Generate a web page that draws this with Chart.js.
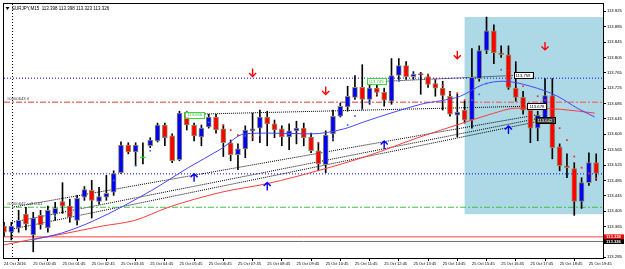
<!DOCTYPE html>
<html><head><meta charset="utf-8">
<script src="https://cdn.jsdelivr.net/npm/chart.js@4.4.0/dist/chart.umd.min.js"></script>
<style>html,body{margin:0;padding:0;background:#fff;overflow:hidden}</style>
</head><body><canvas id="c" width="625" height="269"></canvas>
<script>
const chartTitle = "EURJPY,M15  113.398 113.398 113.323 113.326";
const timeLabels = ["24 Oct 2016","25 Oct 00:45","25 Oct 01:45","25 Oct 02:45","25 Oct 03:45","25 Oct 04:45","25 Oct 05:45","25 Oct 06:45","25 Oct 07:45","25 Oct 08:45","25 Oct 09:45","25 Oct 10:45","25 Oct 11:45","25 Oct 12:45","25 Oct 13:45","25 Oct 14:45","25 Oct 15:45","25 Oct 16:45","25 Oct 17:45","25 Oct 18:45","25 Oct 19:45"];
const timeLabelBars = [0,4,8,12,16,20,24,28,32,36,40,44,48,52,56,60,64,68,72,76,80];
const priceTicks = [113.925,113.885,113.845,113.805,113.765,113.725,113.685,113.645,113.605,113.565,113.525,113.485,113.445,113.405,113.365,113.285];

const opens = [113.366,113.350,113.361,113.397,113.343,113.394,113.361,113.397,113.430,113.418,
113.381,113.441,113.459,113.430,113.441,113.454,113.505,113.577,113.559,113.544,
113.575,113.588,113.629,113.601,113.539,113.663,113.629,113.598,113.624,113.650,
113.619,113.583,113.552,113.567,113.614,113.621,113.650,113.632,113.619,113.598,
113.614,113.621,113.598,113.562,113.526,113.606,113.652,113.676,113.701,113.727,
113.696,113.725,113.714,113.691,113.758,113.784,113.755,113.762,113.755,113.737,
113.725,113.704,113.655,113.668,113.642,113.750,113.823,113.874,113.817,113.812,
113.725,113.701,113.668,113.621,113.639,113.706,113.572,113.523,113.516,113.430,
113.479,113.531];
const highs = [113.376,113.376,113.407,113.415,113.402,113.407,113.418,113.428,113.479,113.436,
113.446,113.469,113.485,113.467,113.498,113.510,113.585,113.583,113.583,113.583,
113.596,113.634,113.634,113.606,113.665,113.665,113.634,113.629,113.657,113.657,
113.629,113.590,113.580,113.627,113.660,113.668,113.665,113.642,113.627,113.632,
113.639,113.634,113.608,113.583,113.614,113.668,113.686,113.730,113.758,113.786,
113.743,113.735,113.725,113.802,113.802,113.794,113.768,113.766,113.761,113.748,
113.743,113.717,113.709,113.691,113.828,113.835,113.910,113.890,113.835,113.835,
113.794,113.717,113.683,113.665,113.750,113.750,113.580,113.554,113.531,113.492,
113.557,113.554];
const lows = [113.340,113.330,113.350,113.356,113.299,113.358,113.350,113.381,113.399,113.376,
113.369,113.433,113.387,113.423,113.433,113.446,113.503,113.554,113.523,113.528,
113.570,113.585,113.575,113.531,113.536,113.616,113.588,113.575,113.621,113.608,
113.547,113.536,113.513,113.544,113.588,113.583,113.575,113.596,113.575,113.565,
113.580,113.575,113.557,113.510,113.505,113.588,113.650,113.665,113.696,113.670,
113.683,113.704,113.678,113.683,113.743,113.748,113.748,113.709,113.727,113.704,
113.668,113.652,113.598,113.634,113.621,113.743,113.815,113.789,113.805,113.722,
113.691,113.657,113.583,113.588,113.634,113.541,113.510,113.492,113.394,113.412,
113.472,113.485];
const closes = [113.350,113.366,113.381,113.371,113.387,113.369,113.407,113.412,113.418,113.389,
113.438,113.461,113.433,113.443,113.451,113.503,113.577,113.559,113.577,113.544,
113.590,113.629,113.596,113.536,113.660,113.629,113.601,113.621,113.650,113.616,
113.583,113.552,113.567,113.616,113.619,113.650,113.632,113.616,113.598,113.614,
113.621,113.596,113.562,113.528,113.603,113.652,113.678,113.704,113.727,113.696,
113.725,113.714,113.694,113.758,113.784,113.755,113.761,113.760,113.735,113.725,
113.706,113.657,113.663,113.642,113.753,113.823,113.874,113.817,113.812,113.727,
113.701,113.668,113.621,113.655,113.706,113.570,113.523,113.518,113.430,113.479,
113.531,113.503];

const maFastBars = [3.8,7.9,12.4,20.2,25.2,29.7,32.9,36.1,42.0,46.5,49.2,52.9,57.0,62.4,65.6,68.3,72.0,75.7,78.4,80.8];
const maFastVals = [113.330,113.348,113.381,113.459,113.518,113.567,113.606,113.608,113.606,113.619,113.637,113.660,113.683,113.704,113.735,113.743,113.730,113.704,113.673,113.650];
const maSlowBars = [0,3.4,7.9,13.4,17.9,22.5,29.7,36.1,42.9,49.8,56.6,62.4,66.5,70.2,76.1,80.8];
const maSlowVals = [113.317,113.330,113.345,113.366,113.381,113.415,113.454,113.477,113.510,113.549,113.596,113.632,113.657,113.673,113.670,113.660];

const blueDotBars = [7,9,15,18,20,22,28,33,35,39,45,47,48,49,50,54,56,64,65,66,68];
const blueDotVals = [113.392,113.402,113.485,113.523,113.562,113.598,113.636,113.601,113.603,113.606,113.593,113.629,113.652,113.670,113.688,113.745,113.761,113.694,113.709,113.737,113.773];
const redDotBars = [30,31,32,34,43,51,58,59,60,61,62,63,69,71,73,74,76,77,78,79,80,81];
const redDotVals = [113.629,113.616,113.603,113.598,113.583,113.709,113.761,113.748,113.732,113.712,113.712,113.694,113.771,113.730,113.704,113.694,113.621,113.590,113.547,113.518,113.503,113.490];

const downArrowBars = [34,44,62,74];
const downArrowVals = [113.766,113.719,113.812,113.835];
const upArrowBars = [26,36,52,69];
const upArrowVals = [113.492,113.469,113.577,113.616];

const trendFrom = [[1.1,113.415],[1.1,113.376],[1.1,113.358],[25.6,113.657],[52.2,113.743]];
const trendTo = [[72.7,113.655],[72.7,113.645],[72.7,113.637],[71.6,113.678],[69.7,113.758]];

const levelBlue = [113.751,113.502];
const levelTl = 113.688;
const levelSell = 113.415;
const askPrice = 113.338;
const bidPrice = 113.326;
const zoneStartBar = 63, zoneTop = 113.910, zoneBottom = 113.397;
const separatorBar = 1.1;

const tagTexts = ["113.656","113.745","113.759","113.678","113.642"];
const tagBars = [24.8,49.6,69.7,71.6,72.7];
const tagVals = [113.656,113.744,113.759,113.678,113.642];
const tagKinds = ["green","green","plain","plain","dark"];

const X_MIN = 0, X_MAX = 81.93;
const FONT = "Liberation Sans";

function hline(v, color, dash, w){
  return {type:'line', data:[{x:X_MIN,y:v},{x:X_MAX,y:v}], borderColor:color, borderWidth:w||1, borderDash:dash, pointRadius:0, order:5};
}

const datasets = [];
datasets.push(hline(levelBlue[0],'#0000ff',[1,2]));
datasets.push(hline(levelBlue[1],'#0000ff',[1,2]));
datasets.push(hline(levelTl,'#e87a7a',[6,2,2,2],1.5));
datasets.push(hline(levelSell,'#44c044',[6,2,2,2]));
datasets.push(hline(askPrice,'#ff4040',[],1));
datasets.push(hline(bidPrice,'#707070',[],1));
for(let k=0;k<trendFrom.length;k++){
  datasets.push({type:'line', data:[{x:trendFrom[k][0],y:trendFrom[k][1]},{x:trendTo[k][0],y:trendTo[k][1]}], borderColor:'#000', borderWidth:1, borderDash:[1,1], pointRadius:0, order:5});
}
datasets.push({type:'bar', data:opens.map((o,i)=>({x:i,y:[lows[i],highs[i]]})), backgroundColor:'#000', borderWidth:0, barThickness:1, grouped:false, order:4});
datasets.push({type:'bar', data:opens.map((o,i)=>({x:i,y:[o,closes[i]]})),
  backgroundColor:opens.map((o,i)=>closes[i]>o?'#0000ff':(closes[i]<o?'#ff0000':'#00ff00')),
  borderColor:opens.map((o,i)=>closes[i]===o?'#00ff00':'#8f8f60'), borderWidth:1, borderSkipped:false,
  barThickness:5, minBarLength:1, grouped:false, order:3});
datasets.push({type:'line', data:maFastBars.map((b,i)=>({x:b,y:maFastVals[i]})), borderColor:'#4646ff', borderWidth:1, pointRadius:0, cubicInterpolationMode:'monotone', order:2});
datasets.push({type:'line', data:maSlowBars.map((b,i)=>({x:b,y:maSlowVals[i]})), borderColor:'#ff3b3b', borderWidth:1, pointRadius:0, cubicInterpolationMode:'monotone', order:2});
datasets.push({type:'scatter', data:blueDotBars.map((b,i)=>({x:b,y:blueDotVals[i]})), pointStyle:'rect', pointRadius:1.2, backgroundColor:'#3070ff', borderWidth:0, order:1});
datasets.push({type:'scatter', data:redDotBars.map((b,i)=>({x:b,y:redDotVals[i]})), pointStyle:'rect', pointRadius:1.2, backgroundColor:'#ff2020', borderWidth:0, order:1});

const overlay = {
  id:'overlay',
  beforeDatasetsDraw(chart){
    const {ctx, chartArea:a, scales:{x,y}} = chart;
    ctx.save();
    ctx.beginPath(); ctx.rect(a.left,a.top,a.right-a.left,a.bottom-a.top); ctx.clip();
    const rx = x.getPixelForValue(zoneStartBar);
    const y1 = y.getPixelForValue(zoneTop), y2 = y.getPixelForValue(zoneBottom);
    ctx.fillStyle = '#add8e6';
    ctx.fillRect(rx, y1, a.right - rx, y2 - y1);
    const sx = Math.round(x.getPixelForValue(separatorBar))+0.5;
    ctx.strokeStyle='#000'; ctx.lineWidth=1; ctx.setLineDash([1,2]);
    ctx.beginPath(); ctx.moveTo(sx,a.top); ctx.lineTo(sx,a.bottom); ctx.stroke();
    ctx.setLineDash([]);
    ctx.restore();
  },
  afterDatasetsDraw(chart){
    const {ctx, chartArea:a, scales:{x,y}} = chart;
    ctx.save();
    ctx.beginPath(); ctx.rect(a.left,a.top,a.right-a.left,a.bottom-a.top); ctx.clip();
    ctx.lineWidth = 1.4;
    downArrowBars.forEach((b,i)=>{
      const px = x.getPixelForValue(b), py = y.getPixelForValue(downArrowVals[i]);
      ctx.strokeStyle = '#ff0000';
      ctx.beginPath(); ctx.moveTo(px,py-4); ctx.lineTo(px,py+4);
      ctx.moveTo(px-3.5,py+0.5); ctx.lineTo(px,py+4); ctx.lineTo(px+3.5,py+0.5); ctx.stroke();
    });
    upArrowBars.forEach((b,i)=>{
      const px = x.getPixelForValue(b), py = y.getPixelForValue(upArrowVals[i]);
      ctx.strokeStyle = '#0000ff';
      ctx.beginPath(); ctx.moveTo(px,py+4); ctx.lineTo(px,py-4);
      ctx.moveTo(px-3.5,py-0.5); ctx.lineTo(px,py-4); ctx.lineTo(px+3.5,py-0.5); ctx.stroke();
    });
    ctx.font = '4.2px "'+FONT+'"';
    ctx.textBaseline = 'middle'; ctx.textAlign='left';
    tagTexts.forEach((t,i)=>{
      const px = x.getPixelForValue(tagBars[i]), py = y.getPixelForValue(tagVals[i]);
      const w = ctx.measureText(t).width + 4, h = 6;
      const k = tagKinds[i];
      ctx.lineWidth = 1;
      ctx.fillStyle = k==='dark' ? '#3a3a3a' : '#ffffff';
      ctx.fillRect(px, py-h/2, w, h);
      ctx.strokeStyle = k==='green' ? '#33dd33' : '#000';
      ctx.strokeRect(Math.round(px)+0.5, Math.round(py-h/2)+0.5, Math.round(w), h);
      ctx.fillStyle = k==='green' ? '#33bb33' : (k==='dark' ? '#ffffff' : '#000');
      ctx.fillText(t, px+2, py+0.5);
    });
    ctx.fillStyle = '#404040';
    ctx.textBaseline='bottom';
    ctx.fillText('#0000643 tl', a.left+3, y.getPixelForValue(levelTl)-1);
    ctx.fillText('#0000642 sell 0.01', a.left+3, y.getPixelForValue(levelSell)-1);
    ctx.restore();
  },
  afterDraw(chart){
    const {ctx, chartArea:a, scales:{y}} = chart;
    ctx.save();
    ctx.strokeStyle = '#000'; ctx.lineWidth = 1;
    ctx.strokeRect(a.left-0.5, a.top-0.5, a.right-a.left+1, a.bottom-a.top+1);
    ctx.font = '4.5px "'+FONT+'"';
    ctx.textBaseline = 'middle'; ctx.textAlign='left'; ctx.fillStyle='#000';
    ctx.fillText(chartTitle, a.left+8, a.top+4.5);
    ctx.beginPath(); ctx.moveTo(a.left+1.5,a.top+3); ctx.lineTo(a.left+5.5,a.top+3); ctx.lineTo(a.left+3.5,a.top+6); ctx.closePath(); ctx.fill();
    [[askPrice,'#ff0000'],[bidPrice,'#000000']].forEach(([v,c])=>{
      const py = y.getPixelForValue(v);
      ctx.fillStyle = c; ctx.fillRect(a.right+1, py-2.5, 20, 5);
      ctx.fillStyle = '#fff'; ctx.font='bold 4.2px "'+FONT+'"';
      ctx.fillText(v.toFixed(3), a.right+3, py+0.3);
    });
    ctx.restore();
  }
};

new Chart(document.getElementById('c'), {
  type:'bar',
  data:{datasets},
  options:{
    responsive:false, animation:false, devicePixelRatio:1,
    layout:{padding:{left:2,top:2,right:0,bottom:0}},
    plugins:{legend:{display:false}, tooltip:{enabled:false}},
    scales:{
      x:{type:'linear', min:X_MIN, max:X_MAX, offset:false, position:'bottom',
        afterFit(s){ s.height = 11; },
        afterBuildTicks(s){ s.ticks = timeLabelBars.map(v=>({value:v})); },
        ticks:{autoSkip:false, maxRotation:0, align:'start', padding:0, color:'#000', font:{family:FONT,size:4},
          callback:(v)=>{ const k=timeLabelBars.indexOf(v); return k>=0?timeLabels[k]:''; }},
        grid:{drawOnChartArea:false, tickLength:3, color:'#000'},
        border:{display:true,color:'#000'}},
      y:{type:'linear', position:'right', min:113.283, max:113.944,
        afterFit(s){ s.width = 22; },
        afterBuildTicks(s){ s.ticks = priceTicks.map(v=>({value:v})); },
        ticks:{autoSkip:false, padding:1, color:'#000', font:{family:FONT,size:4.2}, callback:(v)=>v.toFixed(3)},
        grid:{drawOnChartArea:false, tickLength:3, color:'#000'},
        border:{display:true,color:'#000'}}
    }
  },
  plugins:[overlay]
});
</script></body></html>
